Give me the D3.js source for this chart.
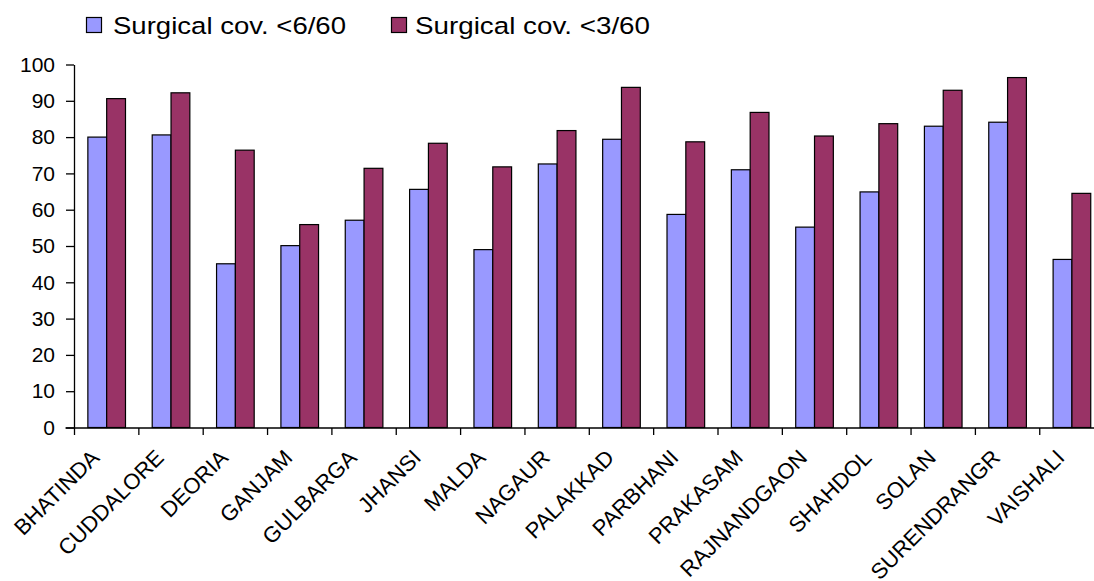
<!DOCTYPE html>
<html><head><meta charset="utf-8">
<script src="https://cdn.jsdelivr.net/npm/d3@7"></script>
<style>body{margin:0;background:#fff}svg{display:block}text{font-family:"Liberation Sans",Arial,sans-serif;fill:#000}</style>
</head><body>
<svg id="c" width="1094" height="581"></svg>
<script>
const categories = ["BHATINDA","CUDDALORE","DEORIA","GANJAM","GULBARGA","JHANSI","MALDA","NAGAUR","PALAKKAD","PARBHANI","PRAKASAM","RAJNANDGAON","SHAHDOL","SOLAN","SURENDRANGR","VAISHALI"];
const seriesNames = ["Surgical cov. <6/60","Surgical cov. <3/60"];
const cov6 = [80.0,80.6,45.1,50.1,57.1,65.6,49.0,72.6,79.4,58.7,71.0,55.2,64.9,83.0,84.1,46.3];
const cov3 = [90.6,92.2,76.4,55.9,71.4,78.3,71.8,81.8,93.7,78.7,86.8,80.3,83.7,92.9,96.4,64.5];
const yTicks = [0,10,20,30,40,50,60,70,80,90,100];
const colors = ["#9999FF","#993366"];

(function(){
const svg = d3.select("#c");
const step = 64.35;
const mLeft = 74.5, mTop = 64.5, mBottom = 427.5, mRight = mLeft + 16*step;
const x = d3.scaleBand().domain(categories).range([mLeft, mRight]).paddingInner(0).paddingOuter(0);
const y = d3.scaleLinear().domain([0,100]).range([mBottom, mTop]);
const inner = d3.scaleBand().domain([0,1]).range([0, x.bandwidth()]).paddingInner(0).paddingOuter(0.71);

const data = [cov6, cov3];
data.forEach((vals, si) => {
  svg.append("g").selectAll("rect").data(vals).join("rect")
    .attr("x", (d,i) => x(categories[i]) + inner(si))
    .attr("y", d => y(d))
    .attr("width", inner.bandwidth())
    .attr("height", d => y(0) - y(d))
    .attr("fill", colors[si])
    .attr("stroke", "#000").attr("stroke-width", 1.2);
});

const ya = svg.append("g").attr("transform", `translate(${mLeft - 0.5},0)`)
  .call(d3.axisLeft(y).tickValues(yTicks).tickSize(8).tickPadding(11).tickSizeOuter(0));
ya.selectAll("text").style("font-size","21px").style("font-family","Liberation Sans, Arial, sans-serif");
ya.selectAll("line,path").attr("stroke","#000").attr("stroke-width",1.3);

const xa = svg.append("g").attr("transform", `translate(0,${mBottom + 0.5})`);
xa.append("line").attr("x1", mLeft - 9).attr("x2", 1094).attr("stroke","#000").attr("stroke-width",1.3);
const tickPos = d3.range(categories.length + 1).map(i => mLeft + i * x.step());
xa.selectAll(".t").data(tickPos).join("line").attr("class","t")
  .attr("x1", d => d).attr("x2", d => d).attr("y1", 0).attr("y2", 7).attr("stroke","#000").attr("stroke-width",1.3);
xa.selectAll(".lab").data(categories).join("text").attr("class","lab")
  .attr("transform", d => `translate(${x(d) + x.bandwidth()/2 - 6},${31}) rotate(-45)`)
  .attr("text-anchor","end").style("font-size","22px").text(d => d);

const leg = svg.append("g");
const legX = [86.5, 391.5];
const legTextX = [113, 415];
const legTextW = [233, 235];
seriesNames.forEach((n, i) => {
  leg.append("rect").attr("x", legX[i]).attr("y", 17.5).attr("width", 15).attr("height", 15)
    .attr("fill", colors[i]).attr("stroke","#000").attr("stroke-width",1.2);
  leg.append("text").attr("x", legTextX[i]).attr("y", 34).style("font-size","24.5px")
    .attr("textLength", legTextW[i]).attr("lengthAdjust","spacingAndGlyphs").text(n);
});
})();
</script>
</body></html>
